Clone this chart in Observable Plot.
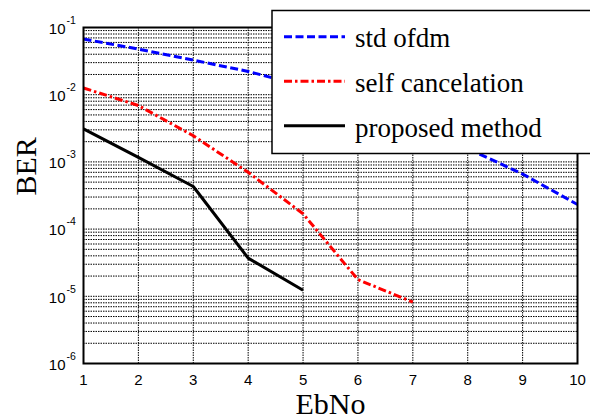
<!DOCTYPE html>
<html><head><meta charset="utf-8">
<script src="https://cdn.jsdelivr.net/npm/d3@7"></script>
<script src="https://cdn.jsdelivr.net/npm/@observablehq/plot@0.6"></script>
<style>body{margin:0;background:#fff;} #chart{position:relative;width:590px;height:420px;overflow:hidden;}</style>
</head><body><div id="chart"></div>
<script>
// ---- data ----
const ebno = [1, 2, 3, 4, 5, 6, 7, 8, 9, 10];
const stdOfdm = [0.0673, 0.0477, 0.0327, 0.0222, 0.0135, 0.0076, 0.0037, 0.00158, 6.6e-4, 2.32e-4];
const selfCancel = [0.0126, 0.0069, 0.00245, 7.0e-4, 1.69e-4, 1.77e-5, 8.2e-6];
const proposed = [3.1e-3, 1.17e-3, 4.3e-4, 3.7e-5, 1.23e-5];
const xTicks = [1, 2, 3, 4, 5, 6, 7, 8, 9, 10];
const yDecades = [-6, -5, -4, -3, -2, -1];
const seriesNames = ["std ofdm", "self cancelation", "proposed method"];
const seriesColors = ["#0000ff", "#ff0000", "#000000"];
const seriesDash = ["8,3.5", "8,3,2.5,3", null];
const xLabel = "EbNo";
const yLabel = "BER";

const minorGrid = [];
for (const k of yDecades.slice(0, -1)) for (let m = 1; m <= 9; m++) minorGrid.push(m * Math.pow(10, k));
minorGrid.push(Math.pow(10, yDecades[yDecades.length - 1]));

const seriesData = [stdOfdm, selfCancel, proposed];
const gridStyle = {stroke: "black", strokeOpacity: 1, strokeWidth: 1, strokeDasharray: "1.5,1"};
const serif = "'Liberation Serif', 'Times New Roman', serif";

const plot = Plot.plot({
  width: 590, height: 420,
  marginLeft: 83, marginRight: 13, marginTop: 27, marginBottom: 57,
  style: {fontFamily: "'Liberation Sans', Arial, sans-serif", fontSize: "15px", color: "black", background: "white"},
  x: {domain: [1, 10], axis: null},
  y: {type: "log", domain: [1e-6, 1e-1], axis: null},
  marks: [
    Plot.gridX(xTicks, gridStyle),
    Plot.gridY(minorGrid, gridStyle),
    ...seriesData.map((arr, s) => Plot.line(arr, {
      x: (d, i) => ebno[i], y: d => d,
      stroke: seriesColors[s], strokeWidth: 3,
      strokeDasharray: seriesDash[s] || undefined,
      strokeLinecap: "butt", strokeLinejoin: "round"
    })),
    Plot.frame({stroke: "black", strokeWidth: 2}),
    Plot.text(xTicks, {x: d => d, frameAnchor: "bottom", text: d => String(d), dy: 17, lineAnchor: "middle", fontSize: 15, fill: "black"}),
    Plot.text(yDecades, {y: d => Math.pow(10, d), frameAnchor: "left", text: () => "10", textAnchor: "end", lineAnchor: "middle", dx: -18, dy: 1.5, fontSize: 15, fill: "black"}),
    Plot.text(yDecades, {y: d => Math.pow(10, d), frameAnchor: "left", text: d => String(d), textAnchor: "start", lineAnchor: "middle", dx: -17, dy: -7, fontSize: 10.5, fill: "black"}),
    Plot.text([xLabel], {frameAnchor: "bottom", text: d => d, dy: 41, lineAnchor: "middle", fontFamily: serif, fontSize: 30, fill: "black"}),
    Plot.text([yLabel], {frameAnchor: "left", text: d => d, rotate: -90, dx: -57, lineAnchor: "middle", fontFamily: serif, fontSize: 30, fill: "black"})
  ]
});

// legend
const svg = d3.select(plot);
const lg = svg.append("g").attr("text-anchor", "start");
lg.append("rect").attr("x", 272).attr("y", 10.5).attr("width", 340).attr("height", 143)
  .attr("fill", "white").attr("stroke", "black").attr("stroke-width", 1.5);
const lineY = [36.7, 81.3, 125.7];
const textY = [46.7, 92.0, 137.3];
seriesNames.forEach((name, s) => {
  const ln = lg.append("line").attr("x1", 284).attr("x2", 345).attr("y1", lineY[s]).attr("y2", lineY[s])
    .attr("stroke", seriesColors[s]).attr("stroke-width", 3).attr("stroke-linecap", "butt");
  if (seriesDash[s]) ln.attr("stroke-dasharray", seriesDash[s]);
  lg.append("text").attr("x", 355).attr("y", textY[s]).attr("text-anchor", "start")
    .attr("font-family", serif).attr("font-size", 27).attr("fill", "black").text(name);
});

document.getElementById("chart").appendChild(plot);
</script>
</body></html>
